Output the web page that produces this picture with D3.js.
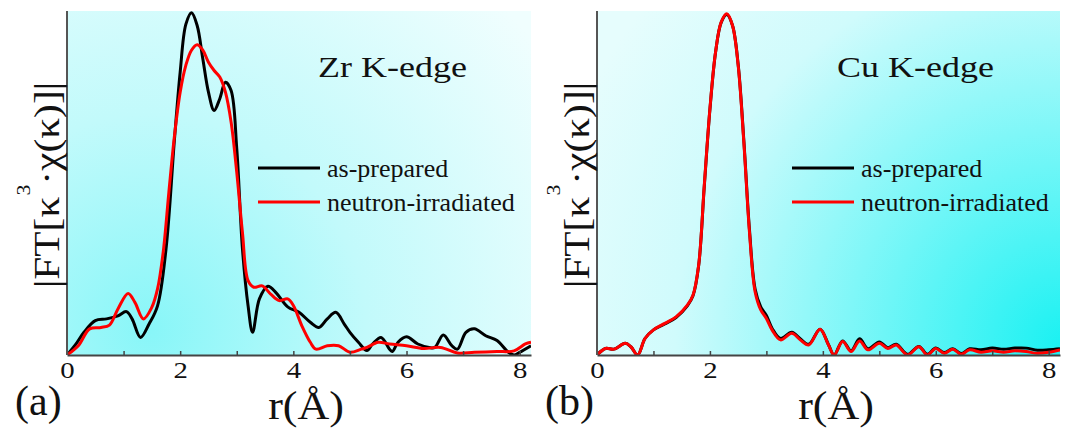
<!DOCTYPE html>
<html>
<head>
<meta charset="utf-8">
<script src="https://cdn.jsdelivr.net/npm/d3@7"></script>
</head>
<body style="margin:0; background:#fff">
<div id="chart"></div>
<script>
/*********************************/
/*            Data               */
/*********************************/
// r (Å) and |FT| (arbitrary units, 1 = top of frame)
const zrPreparedR = [0, 0.15, 0.3, 0.5, 0.7, 0.9, 1.05, 1.15, 1.3, 1.45, 1.6, 1.75, 1.9, 2.0, 2.1, 2.2, 2.3, 2.4, 2.5, 2.6, 2.7, 2.8, 2.9, 3.0, 3.1, 3.2, 3.28, 3.4, 3.55, 3.7, 3.9, 4.1, 4.3, 4.45, 4.6, 4.75, 4.9, 5.0, 5.15, 5.3, 5.4, 5.55, 5.7, 5.75, 5.85, 6.0, 6.2, 6.4, 6.5, 6.65, 6.8, 6.9, 7.05, 7.2, 7.4, 7.6, 7.8, 7.9, 8.0, 8.2];
const zrPreparedFT = [0, 0.03, 0.066, 0.1, 0.105, 0.114, 0.126, 0.105, 0.051, 0.09, 0.143, 0.308, 0.629, 0.822, 0.961, 0.995, 0.958, 0.861, 0.764, 0.711, 0.745, 0.793, 0.769, 0.6, 0.31, 0.143, 0.066, 0.163, 0.2, 0.18, 0.14, 0.124, 0.095, 0.08, 0.105, 0.124, 0.09, 0.066, 0.037, 0.013, 0.032, 0.051, 0.017, 0.01, 0.037, 0.053, 0.032, 0.022, 0.022, 0.058, 0.027, 0.017, 0.066, 0.076, 0.056, 0.042, 0.008, 0.0, 0.008, 0.027];

const zrIrradR = [0, 0.2, 0.4, 0.6, 0.75, 0.9, 1.08, 1.2, 1.35, 1.5, 1.6, 1.7, 1.8, 1.9, 2.0, 2.1, 2.2, 2.3, 2.4, 2.5, 2.6, 2.7, 2.8, 2.9, 3.0, 3.1, 3.2, 3.3, 3.45, 3.6, 3.75, 3.9, 4.0, 4.15, 4.3, 4.4, 4.6, 4.8, 5.0, 5.2, 5.3, 5.5, 5.7, 6.0, 6.3, 6.6, 6.9, 7.2, 7.6, 7.9, 8.1, 8.2];
const zrIrradFT = [0, 0.027, 0.076, 0.08, 0.087, 0.134, 0.179, 0.153, 0.105, 0.139, 0.192, 0.299, 0.473, 0.638, 0.764, 0.842, 0.886, 0.902, 0.886, 0.851, 0.827, 0.808, 0.764, 0.677, 0.531, 0.357, 0.216, 0.197, 0.201, 0.177, 0.158, 0.163, 0.144, 0.085, 0.037, 0.017, 0.027, 0.027, 0.008, 0.017, 0.022, 0.037, 0.032, 0.027, 0.019, 0.022, 0.006, 0.008, 0.01, 0.012, 0.032, 0.037];

const cuR = [0, 0.15, 0.3, 0.5, 0.6, 0.72, 0.85, 1.0, 1.2, 1.4, 1.6, 1.7, 1.8, 1.9, 2.0, 2.1, 2.2, 2.3, 2.4, 2.5, 2.6, 2.7, 2.8, 2.9, 3.0, 3.1, 3.25, 3.45, 3.6, 3.75, 3.95, 4.1, 4.2, 4.35, 4.5, 4.65, 4.8, 5.0, 5.15, 5.3, 5.5, 5.7, 5.85, 6.0, 6.15, 6.3, 6.45, 6.6, 6.8, 7.0, 7.2, 7.4, 7.6, 7.8, 8.0, 8.2];
const cuPreparedFT = [0, 0.019, 0.017, 0.034, 0.024, 0, 0.048, 0.073, 0.09, 0.109, 0.143, 0.172, 0.259, 0.49, 0.714, 0.88, 0.967, 0.99, 0.958, 0.845, 0.625, 0.365, 0.192, 0.14, 0.115, 0.078, 0.048, 0.066, 0.047, 0.031, 0.075, 0.03, 0, 0.041, 0.012, 0.047, 0.018, 0.038, 0.021, 0.031, 0.002, 0.025, 0.002, 0.02, 0.007, 0.018, 0.004, 0.018, 0.015, 0.02, 0.017, 0.02, 0.02, 0.014, 0.015, 0.018];
const cuIrradFT = [0, 0.019, 0.017, 0.034, 0.024, 0, 0.048, 0.073, 0.092, 0.111, 0.145, 0.174, 0.261, 0.493, 0.716, 0.881, 0.968, 0.992, 0.958, 0.842, 0.62, 0.358, 0.184, 0.131, 0.106, 0.073, 0.044, 0.063, 0.044, 0.029, 0.075, 0.029, 0, 0.039, 0.01, 0.041, 0.015, 0.034, 0.019, 0.029, 0, 0.024, 0, 0.019, 0.005, 0.017, 0.002, 0.015, 0.008, 0.012, 0.008, 0.012, 0.01, 0.005, 0.008, 0.015];

const xTicks = [0, 1, 2, 3, 4, 5, 6, 7, 8];
const seriesNames = ["as-prepared", "neutron-irradiated"];
const seriesColors = ["#000000", "#ff0000"];

/*******************************/
/*    Declare the constants    */
/*******************************/
const width = 1068;
const height = 429;
const plotTop = 11;
const plotBottom = 355;
const serif = '"Liberation Serif", serif';
const ink = "#111";

const svg = d3.select("#chart")
  .append("svg")
    .attr("width", width)
    .attr("height", height)
    .attr("viewBox", `0 0 ${width} ${height}`)
    .style("display", "block");

const defs = svg.append("defs");

// background gradients
const gradA = defs.append("radialGradient")
  .attr("id", "bgA")
  .attr("gradientUnits", "userSpaceOnUse")
  .attr("cx", 150).attr("cy", 330).attr("r", 480);
gradA.append("stop").attr("offset", 0).attr("stop-color", "#88f6f8");
gradA.append("stop").attr("offset", 0.45).attr("stop-color", "#c2fafb");
gradA.append("stop").attr("offset", 1).attr("stop-color", "#f0fefe");

const gradB = defs.append("radialGradient")
  .attr("id", "bgB")
  .attr("gradientUnits", "userSpaceOnUse")
  .attr("cx", 1064).attr("cy", 345).attr("r", 540);
gradB.append("stop").attr("offset", 0).attr("stop-color", "#1af1f2");
gradB.append("stop").attr("offset", 0.4).attr("stop-color", "#7ff7f8");
gradB.append("stop").attr("offset", 0.72).attr("stop-color", "#d0fbfc");
gradB.append("stop").attr("offset", 1).attr("stop-color", "#e6fdfd");

// text helper: font set through style, optional horizontal stretch
const addText = (x, y, str, size, sx = 1, anchor = "start") =>
  svg.append("text")
    .attr("transform", `translate(${x}, ${y}) scale(${sx}, 1)`)
    .attr("text-anchor", anchor)
    .style("font-family", serif)
    .style("font-size", `${size}px`)
    .attr("fill", ink)
    .text(str);

/*******************************/
/*      Draw one panel         */
/*******************************/
const drawPanel = (opt) => {
  const xScale = d3.scaleLinear()
    .domain([0, 8.2])
    .range([opt.left, opt.right]);
  const yScale = d3.scaleLinear()
    .domain([0, 1])
    .range([plotBottom, plotTop]);

  // background
  svg.append("rect")
    .attr("x", opt.left)
    .attr("y", plotTop)
    .attr("width", opt.right - opt.left)
    .attr("height", plotBottom - plotTop)
    .attr("fill", `url(#${opt.grad})`);

  defs.append("clipPath")
    .attr("id", `clip-${opt.id}`)
    .append("rect")
      .attr("x", opt.left)
      .attr("y", plotTop - 4)
      .attr("width", opt.right - opt.left)
      .attr("height", plotBottom - plotTop + 4);

  // curves
  const line = d3.line()
    .x(d => xScale(d[0]))
    .y(d => yScale(d[1]))
    .curve(d3.curveCatmullRom.alpha(0.5));

  opt.series.forEach((s, i) => {
    svg.append("path")
      .attr("clip-path", `url(#clip-${opt.id})`)
      .attr("d", line(d3.zip(s.r, s.ft)))
      .attr("fill", "none")
      .attr("stroke", seriesColors[i])
      .attr("stroke-width", 3)
      .attr("stroke-linejoin", "round");
  });

  // axes
  const bottomAxis = d3.axisBottom(xScale)
    .tickValues(xTicks)
    .tickFormat(d => d % 2 === 0 ? d : "")
    .tickSizeInner(-4)
    .tickSizeOuter(0)
    .tickPadding(6);
  const gx = svg.append("g")
    .attr("transform", `translate(0, ${plotBottom})`)
    .call(bottomAxis);
  gx.select(".domain").attr("stroke", "#444").attr("stroke-width", 2);
  gx.selectAll(".tick line").attr("stroke", "#444").attr("stroke-width", 1.5);
  gx.selectAll(".tick text")
    .attr("fill", ink)
    .attr("transform", "scale(1.2, 1)")
    .style("font-family", serif)
    .style("font-size", "24px");

  svg.append("line")
    .attr("x1", opt.left).attr("x2", opt.left)
    .attr("y1", plotTop).attr("y2", plotBottom)
    .attr("stroke", "#555")
    .attr("stroke-width", 2);

  // axis labels
  addText(opt.left + 239, 419, "r(Å)", 40, 1.1, "middle");
  addText(opt.left - 52, 415, opt.tag, 42);

  const yLabel = svg.append("text")
    .attr("transform", `translate(${opt.left - 8}, ${(plotTop + plotBottom) / 2 + 2}) rotate(-90) scale(1.15, 1)`)
    .attr("text-anchor", "middle")
    .style("font-family", serif)
    .style("font-size", "36px")
    .attr("fill", ink);
  yLabel.append("tspan").text("|FT[κ");
  yLabel.append("tspan").attr("dy", -29).attr("dx", 1).style("font-size", "19px").text("3");
  yLabel.append("tspan").attr("dy", 29).text("·χ(κ)]|");

  // title
  addText(opt.titleX, 77, opt.title, 30, 1.2);

  // legend
  seriesNames.forEach((name, i) => {
    const ly = 168 + i * 34;
    svg.append("line")
      .attr("x1", opt.legendX).attr("x2", opt.legendX + 62)
      .attr("y1", ly).attr("y2", ly)
      .attr("stroke", seriesColors[i])
      .attr("stroke-width", 3);
    addText(opt.legendX + 69, ly + 9, name, 26);
  });
};

drawPanel({
  id: "a", tag: "(a)", title: "Zr K-edge", grad: "bgA",
  left: 67, right: 531, titleX: 318, legendX: 258,
  series: [{r: zrPreparedR, ft: zrPreparedFT}, {r: zrIrradR, ft: zrIrradFT}]
});
drawPanel({
  id: "b", tag: "(b)", title: "Cu K-edge", grad: "bgB",
  left: 597, right: 1060, titleX: 837, legendX: 792,
  series: [{r: cuR, ft: cuPreparedFT}, {r: cuR, ft: cuIrradFT}]
});
</script>
</body>
</html>
